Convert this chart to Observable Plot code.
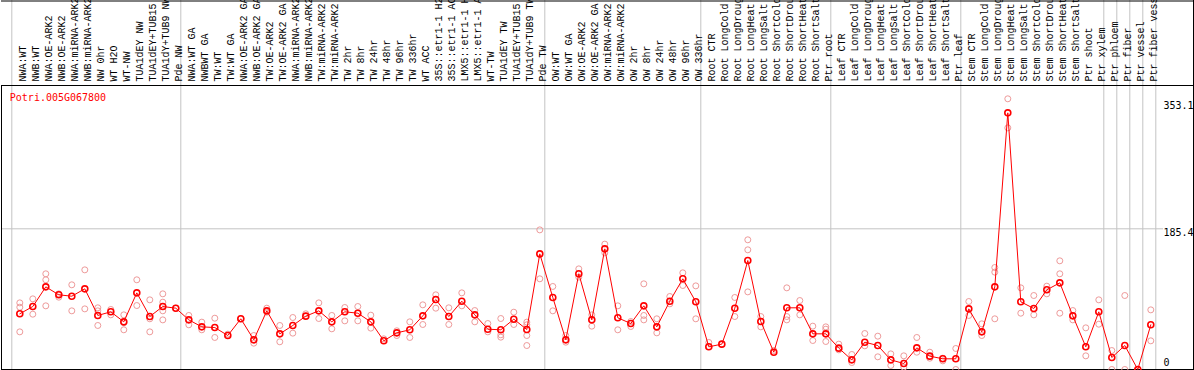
<!DOCTYPE html>
<html><head><meta charset="utf-8">
<script src="https://cdn.jsdelivr.net/npm/d3@7"></script>
<script src="https://cdn.jsdelivr.net/npm/@observablehq/plot@0.6"></script>
<style>body{margin:0;background:#fff}</style>
</head><body><div id="chart"></div>
<script>
const geneName = "Potri.005G067800";
const samples = [
  "NWA:WT","NWB:WT","NWA:OE-ARK2","NWB:OE-ARK2","NWA:miRNA-ARK2","NWB:miRNA-ARK2","NW 0hr","WT H2O","WT-NW","TUA1dEY NW","TUA1dEY+TUB15 NW","TUA1dY+TUB9 NW","Pde NW",
  "NWA:WT GA","NWBWT GA","TW:WT","TW:WT GA","NWA:OE-ARK2 GA","NWB:OE-ARK2 GA","TW:OE-ARK2","TW:OE-ARK2 GA","NWA:miRNA-ARK2 GA","NWB:miRNA-ARK2 GA","TW:miRNA-ARK2","TW:miRNA-ARK2 GA","TW 2hr","TW 8hr","TW 24hr","TW 48hr","TW 96hr","TW 336hr","WT ACC","35S::etr1-1 H2O","35S::etr1-1 ACC","LMX5::etr1-1 H2O","LMX5::etr1-1 ACC","WT-TW","TUA1dEY TW","TUA1dEY+TUB15 TW","TUA1dY+TUB9 TW","Pde TW",
  "OW:WT","OW:WT GA","OW:OE-ARK2","OW:OE-ARK2 GA","OW:miRNA-ARK2","OW:miRNA-ARK2 GA","OW 2hr","OW 8hr","OW 24hr","OW 48hr","OW 96hr","OW 336hr",
  "Root CTR","Root LongCold","Root LongDrought","Root LongHeat","Root LongSalt","Root ShortCold","Root ShortDrought","Root ShortHeat","Root ShortSalt","Ptr root",
  "Leaf CTR","Leaf LongCold","Leaf LongDrought","Leaf LongHeat","Leaf LongSalt","Leaf ShortCold","Leaf ShortDrought","Leaf ShortHeat","Leaf ShortSalt","Ptr leaf",
  "Stem CTR","Stem LongCold","Stem LongDrought","Stem LongHeat","Stem LongSalt","Stem ShortCold","Stem ShortDrought","Stem ShortHeat","Stem ShortSalt","Ptr shoot","Ptr xylem",
  "Ptr phloem","Ptr fiber","Ptr vessel","Ptr fiber vessel"
];
const means = [
  73.4,83.0,108.9,98.4,96.6,106.3,71.2,76.0,62.8,101.0,69.8,83.0,80.8,
  65.4,56.2,55.3,44.8,66.8,39.1,77.3,47.0,58.0,70.3,77.3,62.8,76.0,74.2,62.8,37.8,48.3,52.3,70.7,92.2,69.8,90.0,72.0,53.1,52.3,66.3,52.7,152.4,
  94.9,39.1,126.1,65.4,159.0,68.1,60.6,83.9,56.2,90.0,119.5,89.2,
  29.9,33.4,80.8,143.6,63.2,22.8,81.3,81.3,47.0,47.0,
  28.1,12.7,36.0,31.6,12.7,7.9,28.5,17.6,14.1,14.1,
  79.9,49.6,108.9,338.2,89.2,80.4,105.0,114.2,70.7,29.9,76.0,
  15.8,31.6,0,58.9
];
const replicates = [
  [87.8,82.1,49.6],[93.1,72.9],[126.1,118.2,83.9],[99.7,95.3],[111.6,77.3],[131.3,79.9],[81.3,77.3,58.0],[79.1,72.0],[72.0,61.5,52.3],[118.2,84.3],[91.8,66.8,49.6],[99.7,88.7,77.3,65.4],[80.8],
  [71.2,58.9],[62.4,52.3],[67.6,42.2],[46.6],[66.8],[44.8,34.7],[80.8,75.5],[58.0,36.5],[68.5,47.9],[73.4],[87.8,67.2],[71.2,53.6],[81.7,64.1],[83.0,64.1],[71.6,54.5],[40.4],[51.0,44.8],[62.8,42.2],[85.2,59.3],[98.4,80.8],[81.3,59.3],[101.0,83.9],[77.7,62.8],[60.6,49.6],[67.2,45.7,42.6],[75.5,59.3],[62.4,58.9,44.8,31.6],[184.0,119.5],
  [109.4,77.3],[44.8,36.0],[132.6,121.7],[72.0,57.1],[165.2,153.7],[83.9,52.3],[63.2,56.7],[112.9,71.2,65.4],[66.8,48.3],[96.2,86.5],[127.4,110.7],[110.2,66.8],
  [35.6],[33.4],[94.9,69.8],[170.9,157.7,102.3],[69.8,56.2],[25.0],[107.6,69.8,65.4],[90.9,72.0],[57.1,38.2],[56.2,53.1,36.9],
  [33.4,25.9],[19.8,9.2],[47.4,31.2],[43.9,16.7],[20.6,5.3],[18.0,3.1],[42.2,22.8],[22.8,14.9],[14.9,11.4],[27.7,0],
  [89.6,71.2],[60.2,44.8],[134.4,128.3,66.8],[356.7,318.4],[107.6,74.2],[97.5,72.0],[109.8,99.7],[143.2,126.1,74.2],[77.7,65.4],[54.9,18.0],[91.8,59.7],
  [25.0,0],[97.5,0],[0],[78.6,37.8]
];
const groupEnds = [-1, 12, 40, 52, 62, 72, 83, 84, 85, 86, 87];
const yTicks = [0, 185.4, 353.1];

const meanData = samples.map((s, i) => ({i, label: s, v: means[i]}));
const repData = replicates.flatMap((r, i) => r.map(v => ({i, v})));

const chart = Plot.plot({
  width: 1194, height: 370,
  marginTop: 85, marginBottom: 1, marginLeft: 1, marginRight: 1,
  x: {domain: [0, 87], range: [19.3, 1150.3], axis: null},
  y: {domain: [0, 185.4], range: [369, 228.3], axis: null},
  style: {background: "#fff", overflow: "hidden"},
  marks: [
    Plot.ruleX(groupEnds, {x: d => d, dx: 5, stroke: "#c4c4c4", strokeOpacity: 1, insetTop: -85}),
    Plot.ruleY([yTicks[1]], {stroke: "#c4c4c4", strokeOpacity: 1, insetRight: 30}),
    Plot.frame({stroke: "#000"}),
    Plot.frame({anchor: "top", stroke: "#000", insetTop: -84.5}),
    Plot.frame({anchor: "right", stroke: "#000", insetTop: -85}),
    Plot.dot(repData, {x: "i", y: "v", r: 3, stroke: "#ee9a9a", strokeWidth: 1}),
    Plot.line(meanData, {x: "i", y: "v", stroke: "#ff0000", strokeWidth: 1}),
    Plot.dot(meanData, {x: "i", y: "v", r: 3, stroke: "#ff0000", strokeWidth: 1.6}),
    Plot.text(meanData, {x: "i", text: "label", frameAnchor: "top", rotate: -90, textAnchor: "start", dy: -4, dx: -1.2, fontFamily: "Liberation Mono", fontSize: 10, fill: "#000"}),
    Plot.text([geneName], {frameAnchor: "top-left", dx: 8.3, dy: 8, lineAnchor: "top", fill: "#ff0000", fontFamily: "DejaVu Sans Mono", fontSize: 10}),
    Plot.text(yTicks.filter(d => d > 0), {y: d => d, text: d => String(d), frameAnchor: "right", dx: -30, textAnchor: "start", lineAnchor: "top", fontFamily: "DejaVu Sans Mono", fontSize: 10, letterSpacing: -1, fill: "#000"}),
    Plot.text(yTicks.filter(d => d === 0), {y: d => d, text: d => String(d), frameAnchor: "right", dx: -30, dy: -11, textAnchor: "start", lineAnchor: "top", fontFamily: "DejaVu Sans Mono", fontSize: 10, fill: "#000"})
  ]
});
document.getElementById("chart").appendChild(chart);
</script>
</body></html>
